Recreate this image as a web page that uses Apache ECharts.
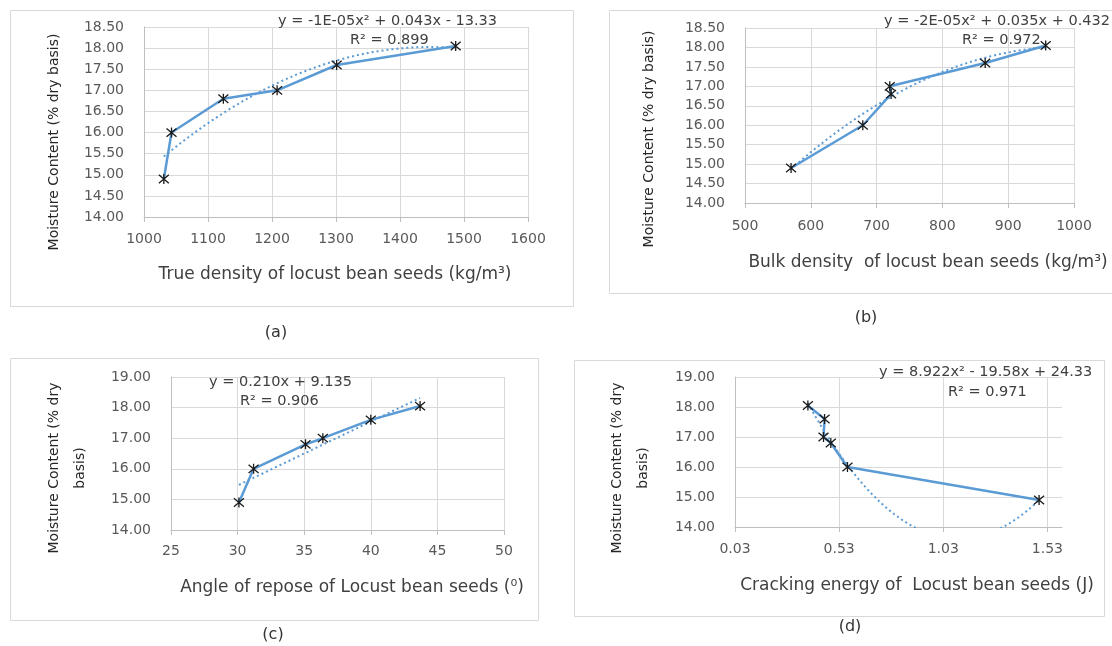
<!DOCTYPE html>
<html>
<head>
<meta charset="utf-8">
<script src="https://cdn.jsdelivr.net/npm/echarts@6/dist/echarts.min.js"></script>
<style>
html,body{margin:0;padding:0;background:#fff;}
#chart{width:1112px;height:646px;}
</style>
</head>
<body>
<div id="chart"></div>
<script>
// ---- data ----
var moisture = [14.9, 16.0, 16.8, 17.0, 17.6, 18.05];
var trueDensity = [1031, 1043, 1124, 1208, 1301, 1487];
var bulkDensity = [570, 679, 722, 720, 865, 957];
var angleRepose = [30.1, 31.2, 35.1, 36.4, 40.0, 43.7];
var crackEnergy = [1.49, 0.57, 0.49, 0.455, 0.46, 0.38];

var xTitles = [
  'True density of locust bean seeds (kg/m\u00B3)',
  'Bulk density  of locust bean seeds (kg/m\u00B3)',
  'Angle of repose of Locust bean seeds (\u2070)',
  'Cracking energy of  Locust bean seeds (J)'
];
var yTitles = [
  'Moisture Content (% dry basis)',
  'Moisture Content (% dry basis)',
  'Moisture Content (% dry\nbasis)',
  'Moisture Content (% dry\nbasis)'
];
var equations = [
  'y = -1E-05x\u00B2 + 0.043x - 13.33',
  'y = -2E-05x\u00B2 + 0.035x + 0.432',
  'y = 0.210x + 9.135',
  'y = 8.922x\u00B2 - 19.58x + 24.33'
];
var rSquared = ['R\u00B2 = 0.899', 'R\u00B2 = 0.972', 'R\u00B2 = 0.906', 'R\u00B2 = 0.971'];
var panelLabels = ['(a)', '(b)', '(c)', '(d)'];
var trendDegree = [2, 2, 1, 2];

// ---- least squares polynomial trendline (as Excel does) ----
function polyfit(xs, ys, deg) {
  var n = deg + 1, mx = 0;
  xs.forEach(function (v) { mx += v; }); mx /= xs.length;
  var A = [], i, j, k;
  for (i = 0; i < n; i++) { A.push(new Array(n + 1).fill(0)); }
  for (k = 0; k < xs.length; k++) {
    var t = xs[k] - mx;
    for (i = 0; i < n; i++) {
      for (j = 0; j < n; j++) A[i][j] += Math.pow(t, i + j);
      A[i][n] += ys[k] * Math.pow(t, i);
    }
  }
  for (i = 0; i < n; i++) {
    var p = i;
    for (j = i + 1; j < n; j++) if (Math.abs(A[j][i]) > Math.abs(A[p][i])) p = j;
    var tmp = A[i]; A[i] = A[p]; A[p] = tmp;
    for (j = i + 1; j < n; j++) {
      var f = A[j][i] / A[i][i];
      for (k = i; k <= n; k++) A[j][k] -= f * A[i][k];
    }
  }
  var c = new Array(n).fill(0);
  for (i = n - 1; i >= 0; i--) {
    var s = A[i][n];
    for (j = i + 1; j < n; j++) s -= A[i][j] * c[j];
    c[i] = s / A[i][i];
  }
  return function (x) {
    var t = x - mx, r = 0;
    for (var q = 0; q < n; q++) r += c[q] * Math.pow(t, q);
    return r;
  };
}
function trendPoints(xs, ys, deg) {
  var f = polyfit(xs, ys, deg);
  var lo = Math.min.apply(null, xs), hi = Math.max.apply(null, xs);
  var pts = [], N = 120;
  for (var i = 0; i <= N; i++) {
    var x = lo + (hi - lo) * i / N;
    pts.push([x, f(x)]);
  }
  return pts;
}
function pairs(xs, ys) { return xs.map(function (x, i) { return [x, ys[i]]; }); }

// ---- layout ----
var FONT = 'DejaVu Sans';
var TICK_COLOR = '#595959';
var TEXT_COLOR = '#404040';
var BLUE = '#5B9BD5';

var panels = [
  { xs: trueDensity, xmin: 1000, xmax: 1600, xint: 100, ymin: 14, ymax: 18.5, yint: 0.5,
    grid: { left: 144, top: 27, width: 384, height: 190 }, labelMargin: 15,
    box: [10, 10, 563, 296], xTitle: [335, 275], yTitle: [54, 142],
    eq: [278, 21], r2: [350, 40], tag: [276, 333], xfmt: 0 },
  { xs: bulkDensity, xmin: 500, xmax: 1000, xint: 100, ymin: 14, ymax: 18.5, yint: 0.5,
    grid: { left: 745, top: 28, width: 329, height: 175 }, labelMargin: 16,
    box: [609, 10, 520, 283], xTitle: [928, 263], yTitle: [649, 139],
    eq: [884, 21], r2: [962, 40], tag: [866, 318], xfmt: 0 },
  { xs: angleRepose, xmin: 25, xmax: 50, xint: 5, ymin: 14, ymax: 19, yint: 1,
    grid: { left: 171, top: 377, width: 333, height: 153 }, labelMargin: 14,
    box: [10, 358, 528, 262], xTitle: [352, 588], yTitle: [67, 468],
    eq: [209, 382], r2: [240, 401], tag: [273, 635], xfmt: 0 },
  { xs: crackEnergy, xmin: 0.03, xmax: 1.6, xint: 0.5, ymin: 14, ymax: 19, yint: 1,
    grid: { left: 735, top: 377, width: 327, height: 150 }, labelMargin: 15,
    box: [574, 360, 530, 256], xTitle: [917, 586], yTitle: [630, 468],
    eq: [879, 372], r2: [948, 392], tag: [850, 627], xfmt: 2 }
];

var STAR = 'path://M0,0L10,10M10,0L0,10M5,-1L5,11';

var grids = [], xAxes = [], yAxes = [], series = [], graphics = [];
panels.forEach(function (p, i) {
  graphics.push({ type: 'rect', silent: true, z: 0,
    shape: { x: p.box[0] + 0.5, y: p.box[1] + 0.5, width: p.box[2], height: p.box[3] },
    style: { fill: '#fff', stroke: '#D9D9D9', lineWidth: 1 } });
  grids.push(Object.assign({ containLabel: false }, p.grid));
  xAxes.push({
    type: 'value', gridIndex: i, min: p.xmin, max: p.xmax, interval: p.xint,
    axisLine: { show: true, onZero: false, lineStyle: { color: '#BFBFBF', width: 1 } },
    axisTick: { show: true, length: 5, lineStyle: { color: '#BFBFBF' } },
    splitLine: { show: true, showMaxLine: i !== 3, lineStyle: { color: '#D9D9D9', width: 1 } },
    axisLabel: { show: true, color: TICK_COLOR, fontFamily: FONT, fontSize: 14, margin: p.labelMargin,
      showMaxLabel: i !== 3,
      formatter: function (v) { return p.xfmt ? v.toFixed(p.xfmt) : String(Math.round(v)); } }
  });
  yAxes.push({
    type: 'value', gridIndex: i, min: p.ymin, max: p.ymax, interval: p.yint,
    axisLine: { show: true, lineStyle: { color: '#BFBFBF', width: 1 } },
    axisTick: { show: false },
    splitLine: { show: true, lineStyle: { color: '#D9D9D9', width: 1 } },
    axisLabel: { color: TICK_COLOR, fontFamily: FONT, fontSize: 14, margin: 20,
      formatter: function (v) { return v.toFixed(2); } }
  });
  series.push({
    type: 'line', xAxisIndex: i, yAxisIndex: i, data: trendPoints(p.xs, moisture, trendDegree[i]),
    showSymbol: false, symbol: 'none', clip: true, silent: true, z: 3,
    lineStyle: { color: BLUE, width: 2, type: [2, 3] }
  });
  series.push({
    type: 'line', xAxisIndex: i, yAxisIndex: i, data: pairs(p.xs, moisture),
    symbol: STAR, symbolSize: 10, showSymbol: true, clip: false, silent: true, z: 4,
    lineStyle: { color: BLUE, width: 2.5 },
    itemStyle: { color: '#000', borderColor: '#1a1a1a', borderWidth: 1.3 }
  });
  graphics.push({ type: 'text', silent: true, z: 10, x: p.xTitle[0], y: p.xTitle[1],
    style: { text: xTitles[i], fill: TEXT_COLOR, font: '17px "' + FONT + '"', align: 'center', verticalAlign: 'middle' } });
  graphics.push({ type: 'text', silent: true, z: 10, x: p.yTitle[0], y: p.yTitle[1], rotation: Math.PI / 2,
    style: { text: yTitles[i], fill: '#262626', font: '14px "' + FONT + '"', align: 'center', verticalAlign: 'middle', lineHeight: 26 } });
  graphics.push({ type: 'text', silent: true, z: 10, x: p.eq[0], y: p.eq[1],
    style: { text: equations[i], fill: TEXT_COLOR, font: '14.5px "' + FONT + '"', align: 'left', verticalAlign: 'middle' } });
  graphics.push({ type: 'text', silent: true, z: 10, x: p.r2[0], y: p.r2[1],
    style: { text: rSquared[i], fill: TEXT_COLOR, font: '14.5px "' + FONT + '"', align: 'left', verticalAlign: 'middle' } });
  graphics.push({ type: 'text', silent: true, z: 10, x: p.tag[0], y: p.tag[1],
    style: { text: panelLabels[i], fill: '#333', font: '16px "' + FONT + '"', align: 'center', verticalAlign: 'middle' } });
});

var chart = echarts.init(document.getElementById('chart'), null, { renderer: 'canvas' });
chart.setOption({
  backgroundColor: '#fff',
  animation: false,
  grid: grids,
  xAxis: xAxes,
  yAxis: yAxes,
  series: series,
  graphic: { elements: graphics }
});
</script>
</body>
</html>
